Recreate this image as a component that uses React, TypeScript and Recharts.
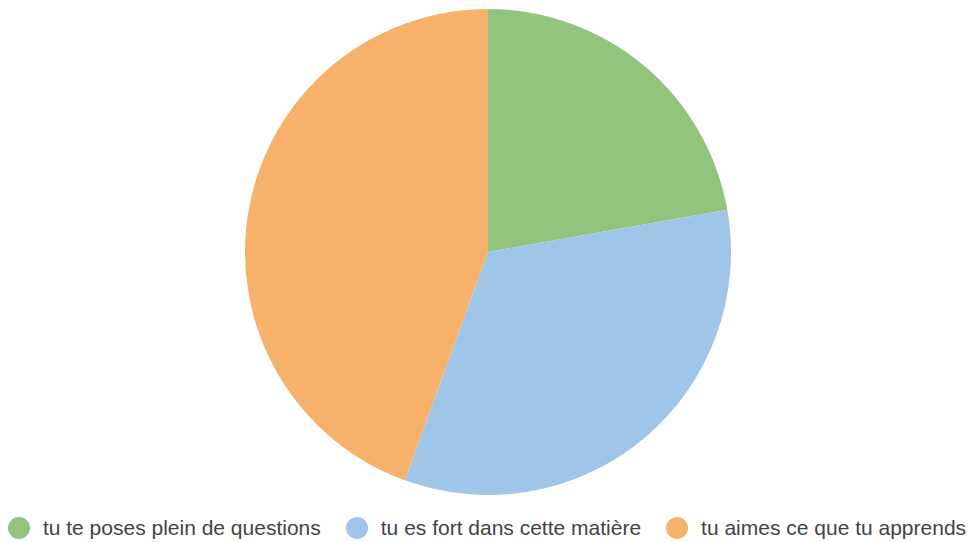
import { PieChart, Pie, Cell, Legend } from 'recharts'

const labels = [
  'tu te poses plein de questions',
  'tu es fort dans cette matière',
  'tu aimes ce que tu apprends'
]
const values = [2, 3, 4]
const colors = ['#93c47d', '#9fc5e8', '#f6b26b']

const data = labels.map((name, i) => ({ name, value: values[i] }))

// legend drawn from the same arrays so order stays as in the source
function renderLegend() {
  return (
    <div
      style={{
        display: 'flex',
        justifyContent: 'center',
        alignItems: 'center',
        gap: 25,
        fontFamily: '"Liberation Sans", Arial, sans-serif',
        fontSize: 21,
        color: '#444444',
        lineHeight: '24px',
        paddingLeft: 2
      }}
    >
      {labels.map((label, i) => (
        <div key={label} style={{ display: 'flex', alignItems: 'center' }}>
          <span
            style={{
              display: 'inline-block',
              width: 22,
              height: 22,
              borderRadius: '50%',
              backgroundColor: colors[i],
              marginRight: 13
            }}
          />
          <span>{label}</span>
        </div>
      ))}
    </div>
  )
}

export default function App() {
  return (
    <div style={{ position: 'absolute', left: 0, top: 0, width: 972, height: 542, background: '#fff' }}>
      <PieChart width={972} height={542} margin={{ top: 0, right: 0, bottom: 0, left: 0 }}>
        <Pie
          data={data}
          dataKey="value"
          nameKey="name"
          cx={488}
          cy={252}
          outerRadius={243}
          startAngle={90}
          endAngle={-270}
          stroke="none"
          isAnimationActive={false}
        >
          {data.map((d, i) => (
            <Cell key={d.name} fill={colors[i]} />
          ))}
        </Pie>
        <Legend
          verticalAlign="bottom"
          align="center"
          content={renderLegend}
          wrapperStyle={{ bottom: 2 }}
        />
      </PieChart>
    </div>
  )
}
